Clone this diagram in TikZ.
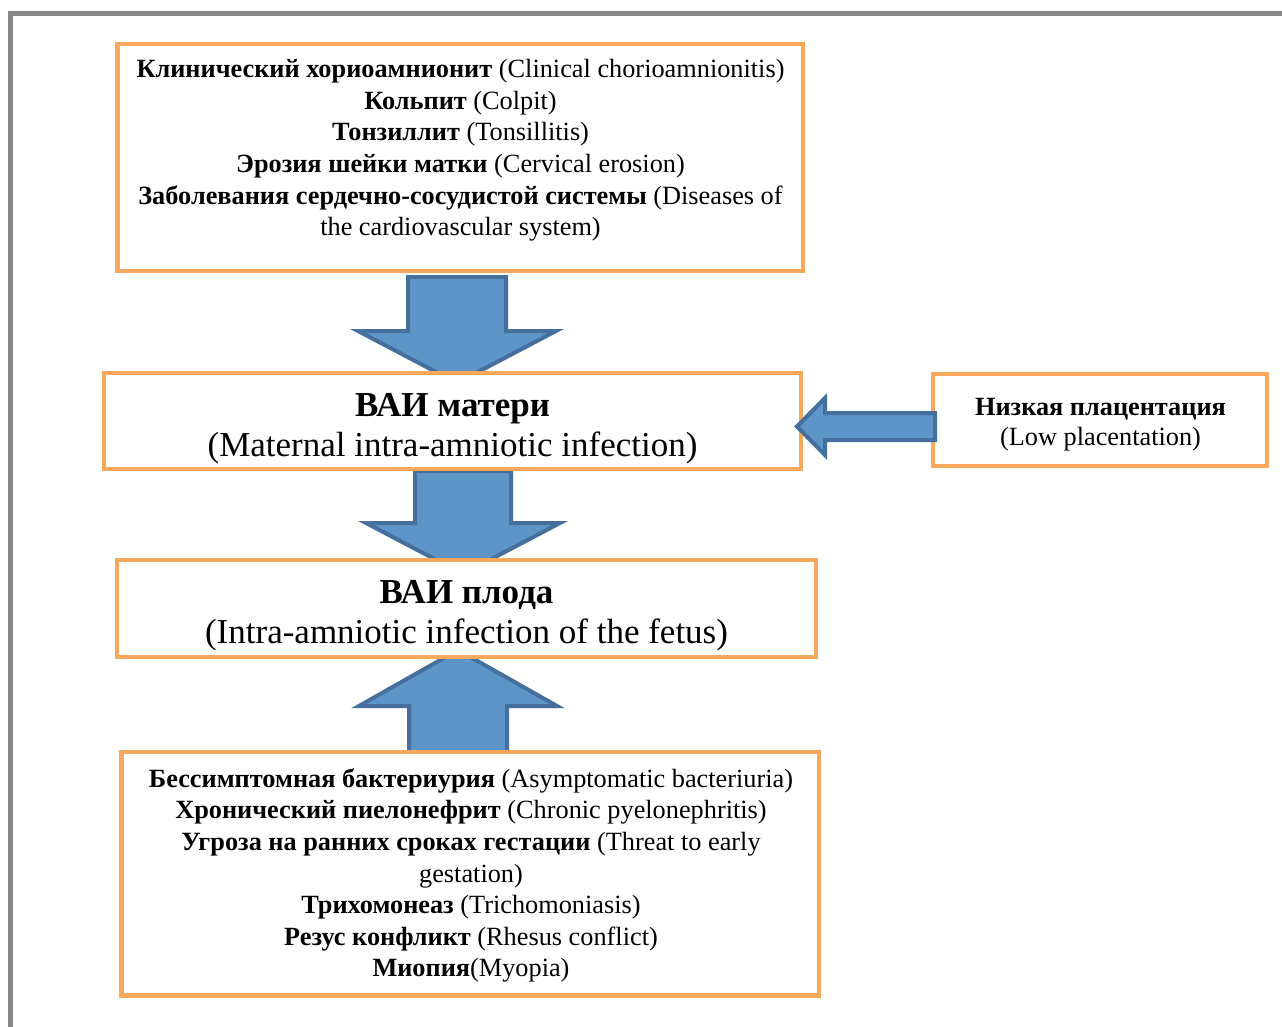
\documentclass[tikz,border=0pt]{standalone}
\usepackage{fontspec}
\setmainfont{Liberation Serif}
\definecolor{boxorange}{HTML}{F8A85A}
\definecolor{arrowfill}{HTML}{5E95C9}
\definecolor{arrowdraw}{HTML}{45709E}
\definecolor{framegray}{HTML}{88888B}
\tikzset{
  obox/.style={draw=boxorange, line width=4.5pt, fill=white},
  blockarrow/.style={draw=arrowdraw, fill=arrowfill, line width=4pt, line join=miter},
  txt/.style={align=center, inner sep=0pt, text=black},
  smalltext/.style={txt, font=\fontsize{26.3}{31.6}\selectfont},
  bigtext/.style={txt, font=\fontsize{35}{40}\selectfont},
  sidetext/.style={txt, font=\fontsize{26.3}{30}\selectfont}
}
\begin{document}
\begin{tikzpicture}[x=1pt,y=-1pt]
\useasboundingbox (0,0) rectangle (1282,1027);
% frame
\draw[framegray, line width=5pt] (8,14) -- (1282,14);
\draw[framegray, line width=5pt] (10.7,11.5) -- (10.7,1027);
% vertical block arrows (behind boxes)
\draw[blockarrow] (408,277) -- (506,277) -- (506,331) -- (556,331) -- (457,383) -- (358,331) -- (408,331) -- cycle;
\draw[blockarrow] (415,471) -- (511,471) -- (511,523) -- (560,523) -- (463,574) -- (366,523) -- (415,523) -- cycle;
\draw[blockarrow] (409,752) -- (507,752) -- (507,706) -- (557,706) -- (458,650) -- (359,706) -- (409,706) -- cycle;
% boxes
\node[obox, minimum width=685.5pt, minimum height=227pt, inner sep=0pt] (top) at (460.25,157.5) {};
\node[obox, minimum width=697pt, minimum height=96pt, inner sep=0pt] (mat) at (452.5,421) {};
\node[obox, minimum width=334pt, minimum height=92pt, inner sep=0pt] (low) at (1100,420) {};
\node[obox, minimum width=699pt, minimum height=97pt, inner sep=0pt] (fet) at (466.5,608.5) {};
\node[obox, minimum width=697.5pt, minimum height=243.5pt, inner sep=0pt] (bot) at (470.25,873.75) {};
% texts
\node[smalltext] (toptext) at (460.5,150.5) {%
\textbf{Клинический хориоамнионит} (Clinical chorioamnionitis)\\
\textbf{Кольпит} (Colpit)\\
\textbf{Тонзиллит} (Tonsillitis)\\
\textbf{Эрозия шейки матки} (Cervical erosion)\\
\textbf{Заболевания сердечно-сосудистой системы} (Diseases of\\
the cardiovascular system)};
\node[bigtext] (mattext) at (452.5,429) {\textbf{ВАИ матери}\\(Maternal intra-amniotic infection)};
\node[sidetext] (lowtext) at (1100.5,425) {\textbf{Низкая плацентация}\\(Low placentation)};
\node[bigtext] (fettext) at (466.5,616) {\textbf{ВАИ плода}\\(Intra-amniotic infection of the fetus)};
\node[smalltext] (bottext) at (471,875.5) {%
\textbf{Бессимптомная бактериурия} (Asymptomatic bacteriuria)\\
\textbf{Хронический пиелонефрит} (Chronic pyelonephritis)\\
\textbf{Угроза на ранних сроках гестации} (Threat to early\\
gestation)\\
\textbf{Трихомонеаз} (Trichomoniasis)\\
\textbf{Резус конфликт} (Rhesus conflict)\\
\textbf{Миопия}(Myopia)};
% horizontal block arrow (on top)
\draw[blockarrow] (935,413) -- (825,413) -- (825,398) -- (797,426.5) -- (825,455) -- (825,440) -- (935,440) -- cycle;
\end{tikzpicture}
\end{document}
